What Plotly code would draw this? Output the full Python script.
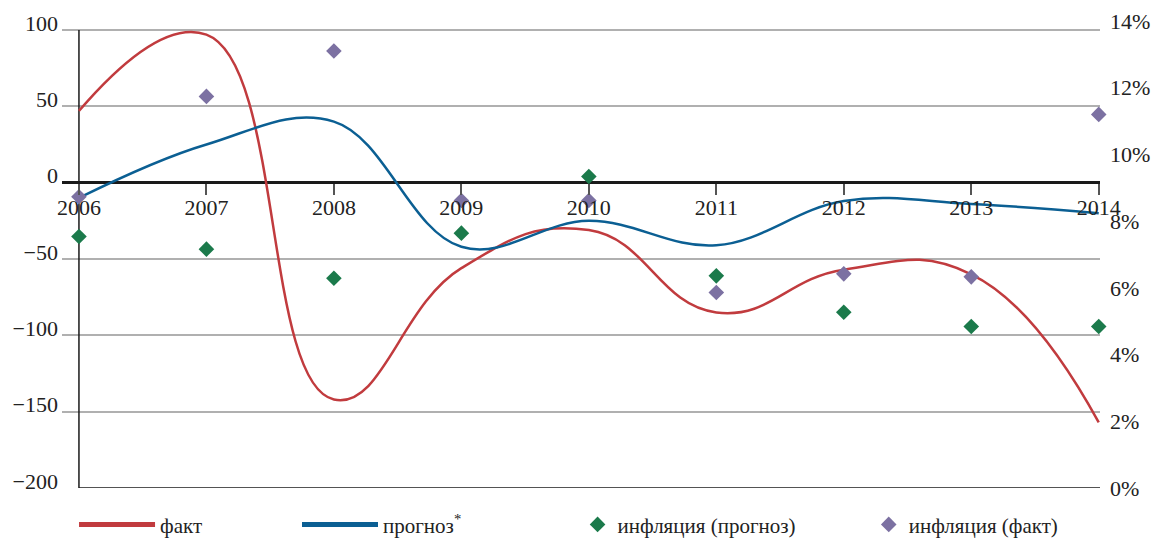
import plotly.graph_objects as go

years = [2006, 2007, 2008, 2009, 2010, 2011, 2012, 2013, 2014]
year_labels = ["2006", "2007", "2008", "2009", "2010", "2011", "2012", "2013", "2014"]

fact = [47, 97, -142, -56, -31, -85, -57, -60, -157]
forecast = [-10, 25, 40, -42, -25, -41, -12, -14, -20]

infl_forecast = [7.54, 7.16, 6.29, 7.64, 9.34, 6.36, 5.27, 4.84, 4.84]
infl_fact = [8.73, 11.74, 13.1, 8.62, 8.62, 5.86, 6.42, 6.33, 11.2]

left_ticks = [-200, -150, -100, -50, 0, 50, 100]
right_ticks = [0, 2, 4, 6, 8, 10, 12, 14]
right_labels = ["0%", "2%", "4%", "6%", "8%", "10%", "12%", "14%"]

RED = "#c13b3e"
BLUE = "#0b5f93"
GREEN = "#1b7a4b"
PURPLE = "#7c71a2"
TXT = "#222222"
FONT = "Liberation Serif"
FS = 22
LFS = 21

Y_RANGE = [-200, 105.9]
X_RANGE = [2005.867, 2014.01]

fig = go.Figure()

fig.add_trace(go.Scatter(x=years, y=fact, mode="lines", name="факт",
                         line=dict(color=RED, width=2.5, shape="spline", smoothing=1.3),
                         showlegend=False, cliponaxis=False))
fig.add_trace(go.Scatter(x=years, y=forecast, mode="lines", name="прогноз<sup>*</sup>",
                         line=dict(color=BLUE, width=2.5, shape="spline", smoothing=1.1),
                         showlegend=False, cliponaxis=False))
fig.add_trace(go.Scatter(x=years, y=infl_forecast, yaxis="y2", mode="markers",
                         name="инфляция (прогноз)",
                         marker=dict(symbol="diamond", color=GREEN, size=12),
                         legend="legend3", cliponaxis=False))
fig.add_trace(go.Scatter(x=years, y=infl_fact, yaxis="y2", mode="markers",
                         name="инфляция (факт)",
                         marker=dict(symbol="diamond", color=PURPLE, size=12),
                         legend="legend4", cliponaxis=False))

# legend proxies for the lines (thicker symbol, no data marks)
fig.add_trace(go.Scatter(x=[None], y=[None], mode="lines", name="факт",
                         line=dict(color=RED, width=5), legend="legend"))
fig.add_trace(go.Scatter(x=[None], y=[None], mode="lines", name="прогноз<sup>*</sup>",
                         line=dict(color=BLUE, width=5), legend="legend2"))

zero_pos = (0 - Y_RANGE[0]) / (Y_RANGE[1] - Y_RANGE[0])

fig.update_layout(
    width=1154, height=541,
    margin=dict(l=62, r=54, t=21, b=53, autoexpand=False),
    paper_bgcolor="white", plot_bgcolor="white",
    font=dict(family=FONT, size=FS, color=TXT),
    xaxis=dict(range=X_RANGE, anchor="free", position=zero_pos,
               tickvals=years, ticktext=year_labels,
               ticks="outside", ticklen=11, tickwidth=1.5, tickcolor="#555555",
               ticklabelstandoff=-6,
               showgrid=False, showline=False, zeroline=False, automargin=False,
               tickfont=dict(family=FONT, size=FS, color=TXT)),
    yaxis=dict(range=Y_RANGE, tickvals=left_ticks, automargin=False,
               showgrid=True, gridcolor="#b0b0b0", gridwidth=1.5,
               zeroline=True, zerolinecolor="#1a1a1a", zerolinewidth=2.5,
               showline=False, ticks="", ticklabelshift=-7, ticklabelstandoff=3,
               tickfont=dict(family=FONT, size=FS, color=TXT)),
    yaxis2=dict(range=[0, 14], overlaying="y", side="right", automargin=False,
                tickvals=right_ticks, ticktext=right_labels,
                showgrid=False, zeroline=False, showline=False, ticks="",
                ticklabelstandoff=9,
                tickfont=dict(family=FONT, size=FS, color=TXT)),
    shapes=[
        dict(type="line", xref="x", yref="y", x0=2006, x1=2006, y0=-200, y1=100,
             line=dict(color="#1a1a1a", width=1.5), layer="between"),
        dict(type="line", xref="x", yref="y", x0=2006, x1=2014.01, y0=-200, y1=-200,
             line=dict(color="#1a1a1a", width=1.5), layer="between"),
    ],
)

leg_common = dict(orientation="h", yanchor="middle", xanchor="left",
                  yref="container", y=0.03,
                  bgcolor="rgba(0,0,0,0)", font=dict(family=FONT, size=LFS, color=TXT))
fig.update_layout(
    legend=dict(x=0.0116, itemwidth=76, **leg_common),
    legend2=dict(x=0.2264, itemwidth=76, **leg_common),
    legend3=dict(x=0.4967, itemwidth=30, **leg_common),
    legend4=dict(x=0.7772, itemwidth=30, **leg_common),
)

fig.write_html(
    "out.html",
    config={"displayModeBar": False},
    post_script="document.body.style.margin='0';document.body.style.overflow='hidden';",
)
